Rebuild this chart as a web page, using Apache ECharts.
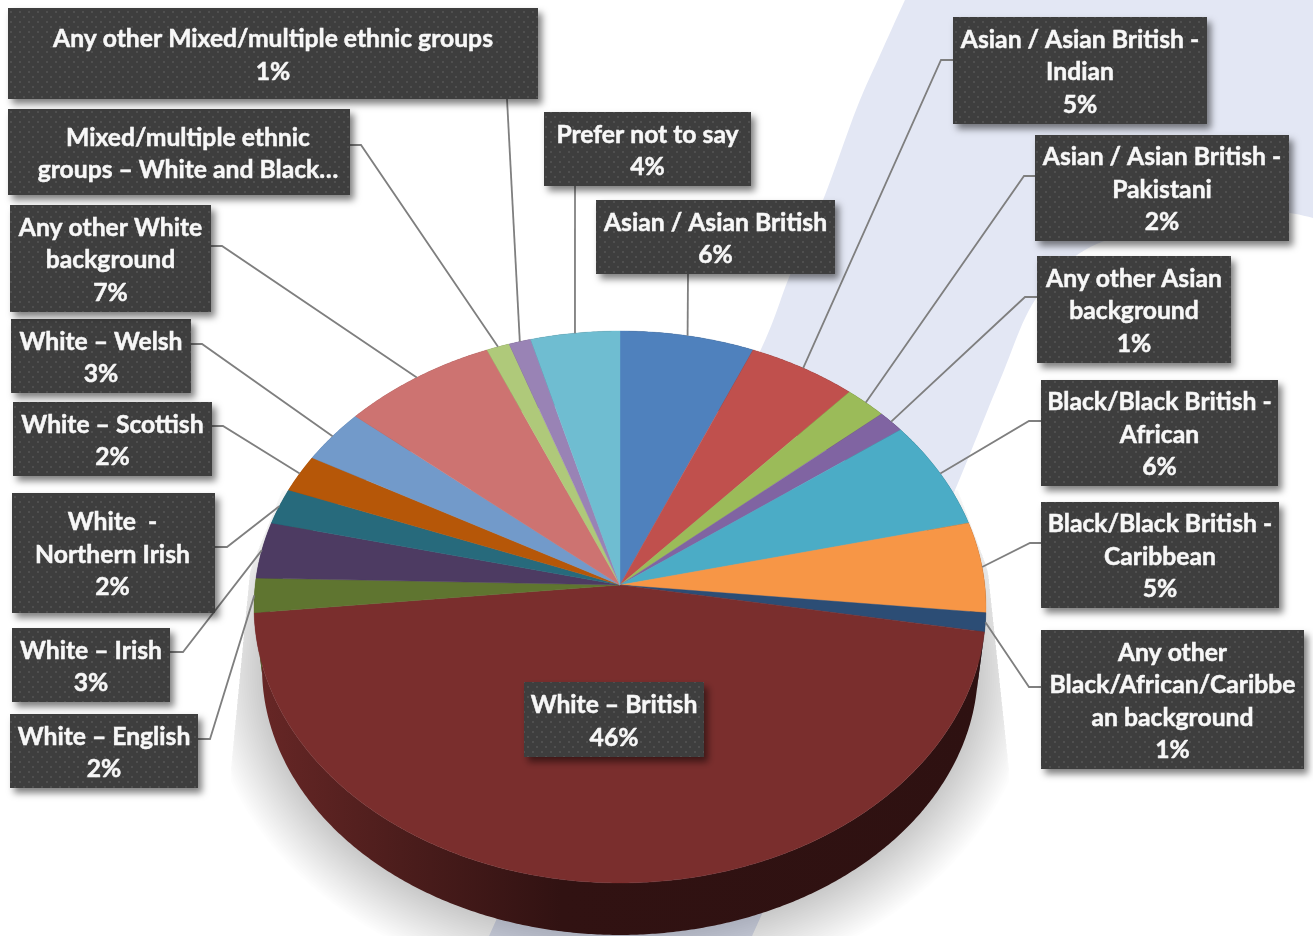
<!DOCTYPE html>
<html><head><meta charset="utf-8">
<style>html,body{margin:0;padding:0;background:#fff}#c{width:1313px;height:936px}</style>
<script src="https://cdn.jsdelivr.net/npm/echarts@6/dist/echarts.min.js"></script>
</head><body><div id="c"></div>
<script>
// ---- data ----
var sliceNames = ['Asian / Asian British','Asian / Asian British - Indian','Asian / Asian British - Pakistani','Any other Asian background','Black/Black British - African','Black/Black British - Caribbean','Any other Black/African/Caribbean background','White – British','White – English','White – Irish','White - Northern Irish','White – Scottish','White – Welsh','Any other White background','Mixed/multiple ethnic groups – White and Black…','Any other Mixed/multiple ethnic groups','Prefer not to say'];
var sliceShares = [6.4,5.2,2.0,1.3,6.4,5.3,1.1,45.7,2.0,3.3,2.1,2.2,3.2,7.4,1.1,1.05,4.25];
var labelLines = ['Asian / Asian British','Asian / Asian British -\nIndian','Asian / Asian British -\nPakistani','Any other Asian\nbackground','Black/Black British -\nAfrican','Black/Black British -\nCaribbean','Any other\nBlack/African/Caribbe\nan background','White – British','White – English','White – Irish','White  -\nNorthern Irish','White – Scottish','White – Welsh','Any other White\nbackground','Mixed/multiple ethnic\ngroups – White and Black…','Any other Mixed/multiple ethnic groups','Prefer not to say'];
var labelPercents = ['6%','5%','2%','1%','6%','5%','1%','46%','2%','3%','2%','2%','3%','7%','','1%','4%'];

// ---- styles and layout ----
var sliceColors = ['#4f81bd','#c0504d','#9bbb59','#8064a2','#4bacc6','#f79646','#2c4d75','#7a2e2d','#5f7530','#4d3b62','#276a7c','#b65708','#729aca','#cd7371','#afc97a','#9983b5','#6fbdd1'];
var boxes = [[596,200,239,74],[953,17,254,107],[1035,135,254,106],[1037,256,194,107],[1041,380,237,106],[1041,502,238,106],[1041,630,263,139],[524,682,180,75],[10,714,188,74],[12,628,158,74],[12,493,203,120],[13,402,199,74],[11,319,180,74],[10,205,201,107],[8,109,342,86],[8,8,530,91],[544,112,207,74]];
var textShift = [0,0,0,0,0,0,0,0,0,0,-1,0,0,0,9,0,0];
var leaderStarts = [[688,274],[953,60],[1035,176],[1037,297],[1041,421],[1041,543],[1041,687],null,[198,739],[170,652],[215,547],[212,426],[191,344],[211,246],[350,145],[507,99],[575,186]];
var leaderElbows = [null,[941,60],[1024,176],[1025,297],[1029,421],[1030,543],[1029,687],null,[210,739],[183,652],[227,547],[223,426],[202,344],[222,246],[361,145],null,null];
var APEX_X=620, APEX_Y=585, K=0.0797, A=364.8, B=274.2;
var cum=[], run=0; sliceShares.forEach(function(v){cum.push(run); run+=v;}); var total=run;

function rim(share){
  var t=share/total*2*Math.PI, u=Math.sin(t), v=Math.cos(t), w=1+K*v;
  return [APEX_X+A*u/w, APEX_Y-B*v/w];
}
function lower(p){ return [APEX_X+(p[0]-APEX_X)*358/366, 668+(p[1]-607)*267/276]; }
function arc(a,b){ var pts=[], n=Math.max(2,Math.ceil((b-a)*8)); for(var i=0;i<=n;i++) pts.push(rim(a+(b-a)*i/n)); return pts; }
function shade(hex,f){ var c=[1,3,5].map(function(i){return Math.round(parseInt(hex.substr(i,2),16)*f);}); return 'rgb('+c.join(',')+')'; }
function spline(p){ var out=[]; for(var i=0;i<p.length-1;i++){ var a=p[Math.max(i-1,0)],b=p[i],c=p[i+1],d=p[Math.min(i+2,p.length-1)];
  for(var j=0;j<12;j++){ var t=j/12,t2=t*t,t3=t2*t; out.push([0,1].map(function(k){return .5*(2*b[k]+(c[k]-a[k])*t+(2*a[k]-5*b[k]+4*c[k]-d[k])*t2+(3*b[k]-a[k]-3*c[k]+d[k])*t3);})); } }
  out.push(p[p.length-1]); return out; }

var tile=document.createElement('canvas'); tile.width=9; tile.height=10;
var g=tile.getContext('2d'); g.fillStyle='#3e3e3e'; g.fillRect(0,0,9,10);
g.fillStyle='#4f4f4f'; g.fillRect(1,1,2,2); g.fillRect(5,6,2,2);

var swooshLeft=[[914,-20],[880,55],[856,110],[823,200],[790,275],[762,347],[700,470],[600,690],[485,945]];
var swooshRight=[[748,945],[850,720],[915,580],[955,490],[1000,380],[1035,300],[1085,250],[1170,222],[1240,213],[1290,213],[1340,226]];
var swoosh=spline(swooshLeft).concat(spline(swooshRight),[[1340,-20]]);

// soft shadow under the pie: stacked translucent ellipses, cut by a reflected-wall outline
function lerpEdge(tbl,y){ for(var i=0;i<tbl.length-1;i++){ if(y<=tbl[i+1][0]){ var f=(y-tbl[i][0])/(tbl[i+1][0]-tbl[i][0]); return tbl[i][1]+(tbl[i+1][1]-tbl[i][1])*Math.max(f,0);} } return tbl[tbl.length-1][1]; }
var edgeL=[[490,282],[570,250],[777,230],[1000,230]], edgeR=[[490,958],[570,988],[777,1010],[1000,1010]];
var shadowLayers=[];
for(var s=0;s<28;s++){
  var d=2.2*s, pts=[];
  for(var q=0;q<=180;q++){
    var th=q/180*2*Math.PI, x=620+(355+d)*Math.cos(th), y=670+(265+d)*Math.sin(th);
    y=Math.max(y,490); x=Math.min(Math.max(x,lerpEdge(edgeL,y)),lerpEdge(edgeR,y));
    pts.push([x,y]);
  }
  shadowLayers.push({type:'polygon',z:1,silent:true,shape:{points:pts},style:{fill:'rgba(0,0,0,0.0095)'}});
}

var chart=echarts.init(document.getElementById('c'),null,{renderer:'canvas'});
var rows=sliceShares.map(function(v,i){return [v,cum[i]];});
chart.setOption({
  animation:false,
  backgroundColor:'#ffffff',
  graphic:{elements:[
    {type:'polygon',z:0,silent:true,shape:{points:swoosh},style:{fill:'#e3e7f4'}}
  ].concat(shadowLayers)},
  series:[
   {type:'custom',name:'wall',coordinateSystem:'none',z:2,silent:true,data:rows,
    renderItem:function(p,api){
      var a=api.value(1),b=a+api.value(0);
      var top=arc(a,b), bot=top.map(lower).reverse();
      var col=sliceColors[p.dataIndex];
      return {type:'polygon',shape:{points:top.concat(bot)},style:{
        fill:{type:'linear',global:true,x:254,y:0,x2:986,y2:0,colorStops:[{offset:0,color:shade(col,.85)},{offset:.2,color:shade(col,.62)},{offset:.42,color:shade(col,.4)},{offset:1,color:shade(col,.38)}]}}};
    }},
   {type:'custom',name:'top',coordinateSystem:'none',z:3,silent:true,data:rows,
    renderItem:function(p,api){
      var a=api.value(1),b=a+api.value(0),col=sliceColors[p.dataIndex];
      return {type:'polygon',shape:{points:[[APEX_X,APEX_Y]].concat(arc(a,b))},style:{fill:col,stroke:col,lineWidth:0.4}};
    }},
   {type:'custom',name:'leaders',coordinateSystem:'none',z:4,silent:true,data:rows,
    renderItem:function(p,api){
      var i=p.dataIndex; if(!leaderStarts[i]) return null;
      var pts=[leaderStarts[i]]; if(leaderElbows[i]) pts.push(leaderElbows[i]);
      pts.push(rim(api.value(1)+api.value(0)/2));
      return {type:'polyline',shape:{points:pts},style:{fill:null,stroke:'#7f7f7f',lineWidth:1.8}};
    }},
   {type:'custom',name:'labels',coordinateSystem:'none',z:5,silent:true,data:rows,
    renderItem:function(p,api){
      var i=p.dataIndex,b=boxes[i];
      var txt=labelLines[i]+(labelPercents[i]?'\n'+labelPercents[i]:'');
      return {type:'group',children:[
        {type:'rect',shape:{x:b[0],y:b[1],width:b[2],height:b[3]},style:{fill:{image:tile,repeat:'repeat'},shadowBlur:7,shadowOffsetX:4,shadowOffsetY:5,shadowColor:'rgba(0,0,0,0.5)'}},
        {type:'text',style:{text:txt,x:b[0]+b[2]/2+textShift[i],y:b[1]+b[3]/2+2,align:'center',verticalAlign:'middle',fill:'#f7f7f7',stroke:'#f7f7f7',lineWidth:0.5,font:'bold 24.7px Lato',lineHeight:32.5}}
      ]};
    }}
  ]
});
</script></body></html>
